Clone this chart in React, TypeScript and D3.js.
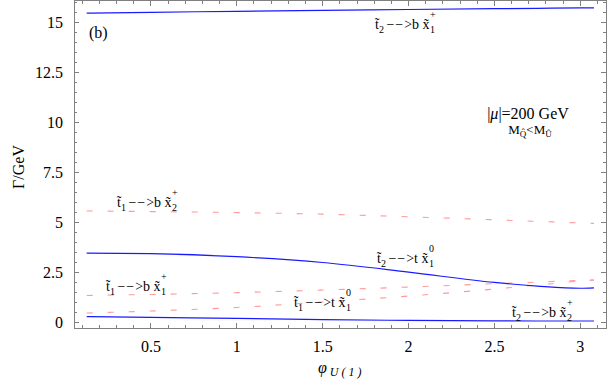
import React, { useEffect, useRef } from "react";
import * as d3 from "d3";

// phi_U(1) sample points
const phi = [0.126, 0.5, 1.0, 1.5, 2.0, 2.5, 2.75, 3.0, 3.08];

// solid (blue) widths, GeV
const t2_b_x1p = [15.47, 15.51, 15.56, 15.61, 15.65, 15.69, 15.71, 15.73, 15.73];
const t2_t_x10 = [3.45, 3.42, 3.27, 2.98, 2.5, 1.98, 1.8, 1.69, 1.71];
const t2_b_x2p = [0.27, 0.23, 0.18, 0.12, 0.08, 0.06, 0.05, 0.05, 0.05];

// dashed (pink) widths, GeV
const t1_b_x2p = [5.56, 5.53, 5.48, 5.4, 5.27, 5.12, 5.04, 4.96, 4.94];
const t1_b_x1p = [1.33, 1.38, 1.47, 1.6, 1.75, 1.92, 2.0, 2.08, 2.1];
const t1_t_x10 = [0.45, 0.55, 0.73, 1.0, 1.3, 1.65, 1.85, 2.05, 2.1];

const xTicks = [0.5, 1, 1.5, 2, 2.5, 3];
const xTickLabels = ["0.5", "1", "1.5", "2", "2.5", "3"];
const yTicks = [0, 2.5, 5, 7.5, 10, 12.5, 15];
const yTickLabels = ["0", "2.5", "5", "7.5", "10", "12.5", "15"];

// decay labels: stop index, product, chargino/neutralino index, charge
const decayStop = ["2", "1", "1", "2", "1", "2"];
const decayProd = ["b", "b", "b", "t", "t", "b"];
const decayInoSub = ["1", "2", "1", "1", "1", "2"];
const decayInoSup = ["+", "+", "+", "0", "0", "+"];
const decayPos = [[375, 29], [117, 207], [106, 291], [377, 263], [294, 307], [512, 317]];

const W = 615, H = 380;
const M = { left: 74, right: 9, top: 0.5, bottom: 52 };
const FONT = "'Liberation Serif', 'Times New Roman', serif";

export default function App() {
  const ref = useRef<SVGSVGElement>(null);

  useEffect(() => {
    const svg = d3.select(ref.current);
    svg.selectAll("*").remove();
    svg.attr("font-family", FONT);

    const x = d3.scaleLinear().domain([0.052, 3.15]).range([M.left, W - M.right]);
    const y = d3.scaleLinear().domain([-0.3, 16.1]).range([H - M.bottom, M.top]);
    const x0 = x.range()[0], x1 = x.range()[1];
    const y0 = y.range()[0], y1 = y.range()[1];

    // frame
    svg.append("rect")
      .attr("x", x0).attr("y", y1)
      .attr("width", x1 - x0).attr("height", y0 - y1)
      .attr("fill", "none").attr("stroke", "#808080").attr("stroke-width", 1)
      .attr("shape-rendering", "crispEdges");

    const tg = svg.append("g").attr("stroke", "#808080").attr("stroke-width", 1)
      .attr("shape-rendering", "crispEdges");
    d3.range(1, 32).forEach((i) => {
      const v = i / 10;
      const len = i % 5 === 0 ? 5 : 3;
      tg.append("line").attr("x1", x(v)).attr("x2", x(v)).attr("y1", y0).attr("y2", y0 - len);
      tg.append("line").attr("x1", x(v)).attr("x2", x(v)).attr("y1", y1).attr("y2", y1 + len);
    });
    d3.range(0, 33).forEach((i) => {
      const v = i * 0.5;
      const len = i % 5 === 0 ? 5 : 3;
      tg.append("line").attr("y1", y(v)).attr("y2", y(v)).attr("x1", x0).attr("x2", x0 + len);
      tg.append("line").attr("y1", y(v)).attr("y2", y(v)).attr("x1", x1).attr("x2", x1 - len);
    });

    // tick labels
    xTicks.forEach((v, i) => {
      svg.append("text").attr("x", x(v)).attr("y", 352).attr("text-anchor", "middle")
        .attr("font-size", 16).text(xTickLabels[i]);
    });
    yTicks.forEach((v, i) => {
      svg.append("text").attr("x", 63).attr("y", y(v) + 5.5).attr("text-anchor", "end")
        .attr("font-size", 16).text(yTickLabels[i]);
    });

    // axis titles
    svg.append("text").attr("transform", "translate(24,167) rotate(-90)")
      .attr("text-anchor", "middle").attr("font-size", 16).text("\u0393/GeV");
    const xl = svg.append("text").attr("x", 318).attr("y", 373).style("white-space", "pre");
    xl.append("tspan").attr("font-style", "italic").attr("font-size", 16).text("\u03c6");
    xl.append("tspan").attr("font-style", "italic").attr("font-size", 12).attr("dy", 3).text(" U ( 1 )");

    // curves
    const line = d3.line<number>()
      .x((_, i) => x(phi[i]))
      .y((d) => y(d))
      .curve(d3.curveMonotoneX);

    [t1_b_x2p, t1_b_x1p, t1_t_x10].forEach((s) => {
      svg.append("path").attr("d", line(s)).attr("fill", "none")
        .attr("stroke", "#ff9a9a").attr("stroke-width", 1.1).attr("stroke-dasharray", "6,15");
    });
    [t2_b_x1p, t2_t_x10, t2_b_x2p].forEach((s) => {
      svg.append("path").attr("d", line(s)).attr("fill", "none")
        .attr("stroke", "#1a1aff").attr("stroke-width", 1.2);
    });

    // decay labels, one text each, tilde as combining mark
    decayPos.forEach(([lx, ly], i) => {
      const t = svg.append("text").attr("x", lx).attr("y", ly).attr("font-size", 14)
        .style("white-space", "pre");
      t.append("tspan").text("t\u0303");
      t.append("tspan").attr("font-size", 10).attr("dy", 4).text(decayStop[i]);
      t.append("tspan").attr("dy", -4).attr("dx", 2.5).attr("letter-spacing", 1).text("\u2212\u2212");
      t.append("tspan").text(">" + decayProd[i]);
      t.append("tspan").attr("dx", 3.5).text("x\u0303");
      t.append("tspan").attr("font-size", 10).attr("dy", 4).attr("dx", 0.5).text(decayInoSub[i]);
      t.append("tspan").attr("font-size", 10).attr("dy", -15).attr("dx", -5).text(decayInoSup[i]);
    });

    svg.append("text").attr("x", 89).attr("y", 38).attr("font-size", 16).text("(b)");

    // parameter note
    const l1 = svg.append("text").attr("text-anchor", "middle")
      .attr("x", 528).attr("y", 118.5).attr("font-size", 16);
    l1.append("tspan").text("|");
    l1.append("tspan").attr("font-style", "italic").text("\u03bc");
    l1.append("tspan").text("|=200 GeV");
    const l2 = svg.append("text").attr("text-anchor", "middle")
      .attr("x", 530).attr("y", 134).attr("font-size", 13);
    l2.append("tspan").text("M");
    l2.append("tspan").attr("font-size", 9).attr("dy", 3).text("Q\u0302");
    l2.append("tspan").attr("dy", -3).text("<M");
    l2.append("tspan").attr("font-size", 9).attr("dy", 3).text("\u00db");
  }, []);

  return (
    <svg
      ref={ref}
      width={W}
      height={H}
      style={{ position: "absolute", left: 0, top: 0, background: "#fff" }}
    />
  );
}
